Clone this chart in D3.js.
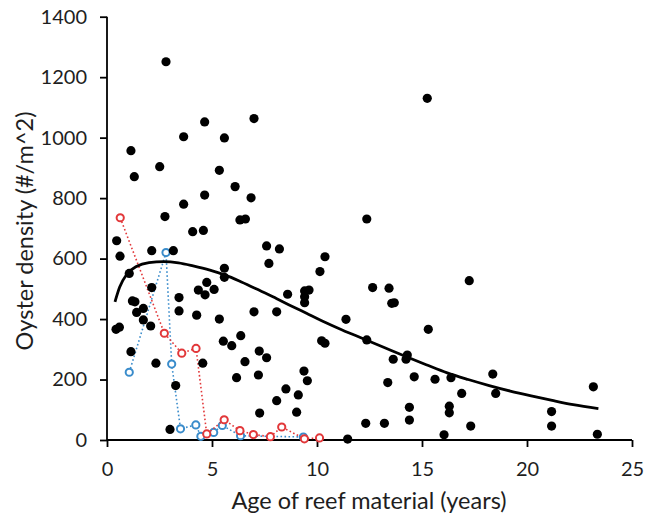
<!DOCTYPE html>
<html>
<head>
<meta charset="utf-8">
<script src="https://cdn.jsdelivr.net/npm/d3@7"></script>
<style>
  html, body { margin: 0; padding: 0; background: #fff; }
  svg { display: block; }
  text { font-family: Lato, "Open Sans", sans-serif; fill: #1e1e1e; }
</style>
</head>
<body>
<svg id="chart" width="647" height="518"></svg>
<script>
// ---------- data ----------
const blackX = [2.81,4.65,7.0,3.65,5.59,1.14,1.30,2.51,5.35,6.10,4.65,6.86,3.65,2.76,6.33,6.59,4.08,4.59,0.46,0.62,
  2.13,3.16,1.06,7.60,8.21,7.71,5.59,5.59,4.75,4.35,4.67,5.10,2.13,3.43,1.21,1.33,1.73,1.41,3.43,8.60,
  7.0,8.08,9.41,9.62,9.41,9.41,10.14,10.38,1.73,0.43,0.59,2.08,4.27,5.35,5.54,5.94,6.37,1.14,2.33,4.56,
  7.25,7.60,6.57,6.17,7.21,9.38,9.54,3.27,8.52,8.08,9.11,7.27,9.03,3.0,12.37,15.25,12.65,13.43,13.56,13.68,
  17.25,11.38,15.30,10.22,10.38,12.37,13.63,14.24,14.30,14.63,15.62,16.38,18.37,13.37,16.89,18.51,23.16,14.40,16.30,16.30,
  21.17,12.32,13.21,14.40,17.32,21.17,16.05,11.46,23.35];
const blackY = [1251,1052,1063,1003,999,957,871,904,892,838,810,801,780,739,728,731,689,693,659,608,
  626,626,551,642,632,584,568,538,521,496,480,498,504,471,460,457,435,422,427,482,
  424,424,493,496,474,454,557,606,397,366,373,377,413,400,327,312,345,292,254,254,
  294,272,259,206,215,228,196,180,169,130,149,89,92,35,731,1130,504,502,452,454,
  527,399,366,328,320,331,267,267,281,209,201,206,218,190,154,154,176,108,112,90,
  94,55,55,66,46,46,17,3,19];

const redX = [0.63,2.73,3.56,4.24,4.75,5.58,6.33,6.97,7.78,8.32,9.40,10.12];
const redY = [735,353,287,303,20,67,31,18,11,43,4,7];

const blueX = [1.06,2.81,3.08,3.50,4.23,4.47,5.08,5.49,6.36,9.35];
const blueY = [224,620,251,37,50,12,25,48,14,10];

// fitted trend curve
const fitX = [0.38,0.6,0.95,1.4,2.0,2.7,3.4,4.1,4.9,5.6,6.3,7.1,7.9,8.7,9.5,10.3,11.2,12.2,13.2,14.2,15.2,16.2,17.2,18.2,19.2,20.2,21.2,22.2,23.4];
const fitY = [457,505,549,574,587,590,586,576,562,546,526,500,474,446,419,392,364,335,306,277,249,222,200,180,162,146,131,117,104];

const xTicks = [0,5,10,15,20,25];
const yTicks = [0,200,400,600,800,1000,1200,1400];
const xTitle = "Age of reef material (years)";
const yTitle = "Oyster density (#/m^2)";

// ---------- drawing ----------
const svg = d3.select("#chart");
const x = d3.scaleLinear().domain([0,25]).range([107,632]);
const y = d3.scaleLinear().domain([0,1400]).range([440,16.7]);

const gx = svg.append("g").attr("transform","translate(0,440)")
  .call(d3.axisBottom(x).tickValues(xTicks).tickSize(7).tickPadding(15).tickFormat(d3.format("d")));
const gy = svg.append("g").attr("transform","translate(107,0)")
  .call(d3.axisLeft(y).tickValues(yTicks).tickSize(7).tickPadding(13).tickFormat(d3.format("d")));
[gx,gy].forEach(g => {
  g.select(".domain").attr("stroke","#000").attr("stroke-width",1.8);
  g.selectAll(".tick line").attr("stroke","#000").attr("stroke-width",1.8);
  g.selectAll(".tick text").style("font-family","Lato, sans-serif").style("font-size","20px").attr("fill","#1e1e1e");
});
gx.select(".domain").attr("d","M107,0H632");
gy.select(".domain").attr("d","M0,440V16.7");

const line = d3.line().x(d=>x(d[0])).y(d=>y(d[1]));

function series(xs, ys, color) {
  const pts = xs.map((v,i)=>[v, ys[i]]);
  svg.append("path").datum(pts).attr("d", line)
    .attr("fill","none").attr("stroke",color).attr("stroke-width",1.6)
    .attr("stroke-dasharray","1.6,2.4");
  svg.append("g").selectAll("circle").data(pts).join("circle")
    .attr("cx",d=>x(d[0])).attr("cy",d=>y(d[1])).attr("r",3.6)
    .attr("fill","#fff").attr("stroke",color).attr("stroke-width",2);
}
series(blueX, blueY, "#3a8ccb");
series(redX, redY, "#e2383a");

svg.append("g").selectAll("circle").data(blackX.map((v,i)=>[v, blackY[i]])).join("circle")
  .attr("cx",d=>x(d[0])).attr("cy",d=>y(d[1])).attr("r",4.6).attr("fill","#000");

svg.append("path").datum(fitX.map((v,i)=>[v, fitY[i]]))
  .attr("d", d3.line().x(d=>x(d[0])).y(d=>y(d[1])).curve(d3.curveMonotoneX))
  .attr("fill","none").attr("stroke","#000").attr("stroke-width",2.8);

svg.append("text").attr("x",369).attr("y",509).attr("text-anchor","middle")
  .style("font-size","23.5px").text(xTitle);
svg.append("text").attr("transform","translate(33,231) rotate(-90)").attr("text-anchor","middle")
  .style("font-size","23.5px").text(yTitle);
</script>
</body>
</html>
